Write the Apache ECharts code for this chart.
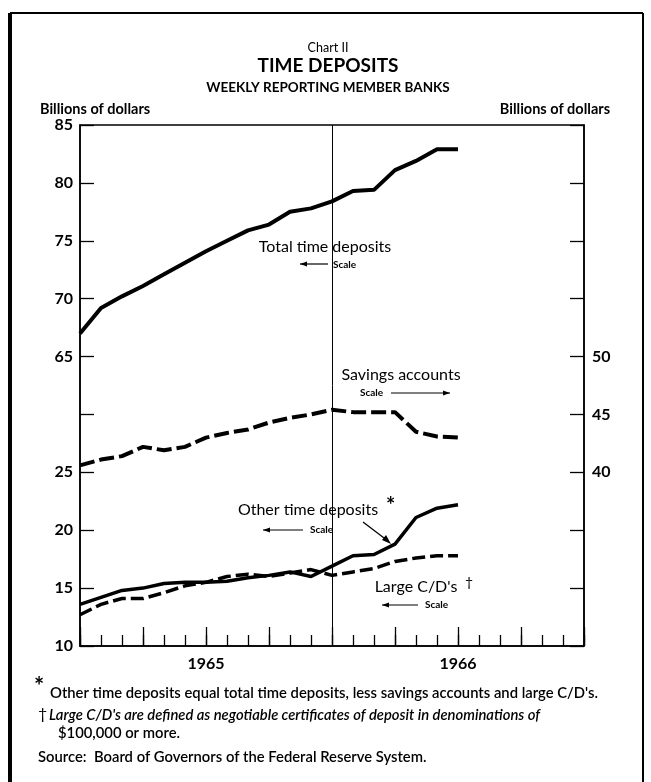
<!DOCTYPE html>
<html>
<head>
<meta charset="utf-8">
<script src="https://cdn.jsdelivr.net/npm/echarts@6/dist/echarts.min.js"></script>
<style>
  html, body { margin: 0; padding: 0; background: #fff; }
  #chart { width: 651px; height: 782px; }
</style>
</head>
<body>
<div id="chart"></div>
<script>
// months on the x axis, Jan 1965 .. Jan 1967
var months = ['1965-01','1965-02','1965-03','1965-04','1965-05','1965-06','1965-07','1965-08','1965-09','1965-10','1965-11','1965-12',
              '1966-01','1966-02','1966-03','1966-04','1966-05','1966-06','1966-07','1966-08','1966-09','1966-10','1966-11','1966-12','1967-01'];

// billions of dollars, monthly readings Jan 1965 .. Jul 1966
var totalTime   = [67.0, 69.2, 70.2, 71.1, 72.1, 73.1, 74.1, 75.0, 75.9, 76.4, 77.5, 77.8, 78.4, 79.3, 79.4, 81.1, 81.9, 82.9, 82.9];
var savings     = [40.6, 41.1, 41.4, 42.2, 41.9, 42.2, 43.0, 43.4, 43.7, 44.3, 44.7, 45.0, 45.4, 45.2, 45.2, 45.2, 43.5, 43.1, 43.0];
var otherTime   = [13.6, 14.2, 14.8, 15.0, 15.4, 15.5, 15.5, 15.6, 15.9, 16.1, 16.4, 16.0, 16.9, 17.8, 17.9, 18.8, 21.1, 21.9, 22.2];
var largeCD     = [12.7, 13.6, 14.1, 14.1, 14.6, 15.2, 15.5, 16.0, 16.2, 16.0, 16.3, 16.6, 16.1, 16.4, 16.7, 17.3, 17.6, 17.8, 17.8];

// tick labels shown on each scale
var lowerLeftLabels  = [10, 15, 20, 25];
var upperLeftLabels  = [65, 70, 75, 80, 85];
var rightLabels      = [40, 45, 50];
var yearLabels = { '1965-07': '1965', '1966-07': '1966' };

var FONT = 'Lato, "Open Sans", sans-serif';

function txt(x, y, s, size, opts) {
  opts = opts || {};
  return {
    type: 'text', x: x, y: y, silent: true,
    style: {
      text: s, fill: '#000', font: (opts.style || 'normal') + ' ' + (opts.weight || 'normal') + ' ' + size + 'px ' + FONT,
      textAlign: opts.align || 'left', textVerticalAlign: 'middle'
    }
  };
}

// small arrow for the "Scale" notes; dir -1 points left, 1 points right
function arrow(x1, x2, y, dir) {
  var tip = dir < 0 ? x1 : x2;
  return [
    { type: 'line', silent: true, shape: { x1: x1, y1: y, x2: x2, y2: y }, style: { stroke: '#000', lineWidth: 1.2 } },
    { type: 'polygon', silent: true, shape: { points: [[tip, y], [tip - dir * 7, y - 2.5], [tip - dir * 7, y + 2.5]] }, style: { fill: '#000' } }
  ];
}

var graphics = [
  // outer frame
  { type: 'line', silent: true, shape: { x1: 10, y1: 13, x2: 10, y2: 782 }, style: { stroke: '#000', lineWidth: 4 } },
  { type: 'line', silent: true, shape: { x1: 10, y1: 13, x2: 643, y2: 13 }, style: { stroke: '#000', lineWidth: 2 } },
  { type: 'line', silent: true, shape: { x1: 643, y1: 13, x2: 643, y2: 782 }, style: { stroke: '#000', lineWidth: 2 } },

  txt(328, 48, 'Chart II', 12.5, { align: 'center' }),
  txt(328, 66, 'TIME DEPOSITS', 19, { align: 'center', weight: 'bold' }),
  txt(328, 88, 'WEEKLY REPORTING MEMBER BANKS', 13.5, { align: 'center', weight: 'bold' }),
  txt(40, 109, 'Billions of dollars', 14.5, { weight: 'bold' }),
  txt(610, 109, 'Billions of dollars', 14.5, { weight: 'bold', align: 'right' }),

  txt(325, 247, 'Total time deposits', 16, { align: 'center' }),
  txt(333, 265, 'Scale', 10, { weight: 'bold' }),
  txt(401, 375, 'Savings accounts', 16, { align: 'center' }),
  txt(360, 393, 'Scale', 10, { weight: 'bold' }),
  txt(308, 510, 'Other time deposits', 16, { align: 'center' }),
  txt(386, 506, '*', 22, { weight: 'bold' }),
  txt(310, 530, 'Scale', 10, { weight: 'bold' }),
  txt(416, 587, "Large C/D's", 16, { align: 'center' }),
  txt(465, 582, '\u2020', 14),
  txt(425, 605, 'Scale', 10, { weight: 'bold' }),
  { type: 'line', silent: true, shape: { x1: 363, y1: 522, x2: 388, y2: 541 }, style: { stroke: '#000', lineWidth: 1.3 } },
  { type: 'polygon', silent: true, shape: { points: [[391, 544], [382, 540], [386, 535]] }, style: { fill: '#000' } },

  txt(34, 687, '*', 24, { weight: 'bold' }),
  txt(50, 693, "Other time deposits equal total time deposits, less savings accounts and large C/D's.", 14.8, { weight: '600' }),
  txt(38, 714, '\u2020', 16),
  txt(49, 715, "Large C/D's are defined as negotiable certificates of deposit in denominations of", 14.8, { weight: '600', style: 'italic' }),
  txt(58, 733, '$100,000 or more.', 14.8, { weight: '600' }),
  txt(38, 757, 'Source:  Board of Governors of the Federal Reserve System.', 14.8, { weight: '600' })
]
  .concat(arrow(300, 328, 264, -1))
  .concat(arrow(391, 450, 393, 1))
  .concat(arrow(263, 303, 530, -1))
  .concat(arrow(382, 418, 605, -1));

var axisLine = { show: true, lineStyle: { color: '#000', width: 1.5 } };
var labelStyle = { color: '#000', fontSize: 16, fontWeight: 'bold', fontFamily: FONT };

var option = {
  backgroundColor: '#fff',
  animation: false,
  grid: { left: 80, right: 67, top: 125, bottom: 136, show: true, borderColor: '#000', borderWidth: 1.5 },
  xAxis: [
    {
      type: 'category', data: months, boundaryGap: false, position: 'bottom',
      axisLine: axisLine,
      axisTick: { show: true, inside: true, length: 11, interval: 0, lineStyle: { color: '#000', width: 1.3 } },
      axisLabel: Object.assign({ interval: 0, margin: 10, formatter: function (v) { return yearLabels[v] || ''; } }, labelStyle),
      splitLine: { show: false }
    },
    {
      type: 'category', data: months, boundaryGap: false, position: 'bottom',
      axisLine: { show: false },
      axisTick: { show: true, inside: true, length: 19, interval: function (i) { return i % 3 === 0; }, lineStyle: { color: '#000', width: 1.3 } },
      axisLabel: { show: false },
      splitLine: { show: false }
    }
  ],
  yAxis: [
    { // lower left scale: 10 .. 25
      type: 'value', position: 'left', offset: 0, min: 10, max: 55, interval: 5,
      axisLine: axisLine,
      axisTick: { show: true, inside: true, length: 14, lineStyle: { color: '#000', width: 1.3 } },
      axisLabel: Object.assign({ margin: 7, formatter: function (v) { return lowerLeftLabels.indexOf(v) >= 0 ? String(v) : ''; } }, labelStyle),
      splitLine: { show: false }
    },
    { // upper left scale: 65 .. 85
      type: 'value', position: 'left', offset: 0, min: 40, max: 85, interval: 5,
      axisLine: { show: false }, axisTick: { show: false },
      axisLabel: Object.assign({ margin: 7, formatter: function (v) { return upperLeftLabels.indexOf(v) >= 0 ? String(v) : ''; } }, labelStyle),
      splitLine: { show: false }
    },
    { // right scale for savings accounts
      type: 'value', position: 'right', offset: 0, min: 25, max: 70, interval: 5,
      axisLine: axisLine,
      axisTick: { show: true, inside: true, length: 14, lineStyle: { color: '#000', width: 1.3 } },
      axisLabel: Object.assign({ margin: 8, formatter: function (v) { return rightLabels.indexOf(v) >= 0 ? String(v) : ''; } }, labelStyle),
      splitLine: { show: false }
    }
  ],
  series: [
    {
      name: 'Total time deposits', type: 'line', yAxisIndex: 1, data: totalTime, symbol: 'none',
      lineStyle: { color: '#000', width: 4 },
      markLine: {
        silent: true, symbol: 'none', label: { show: false },
        lineStyle: { color: '#000', width: 1, type: 'solid' },
        data: [{ xAxis: '1966-01' }]
      }
    },
    {
      name: 'Savings accounts', type: 'line', yAxisIndex: 2, data: savings, symbol: 'none',
      lineStyle: { color: '#000', width: 4, type: [15, 5] }
    },
    {
      name: 'Other time deposits', type: 'line', yAxisIndex: 0, data: otherTime, symbol: 'none',
      lineStyle: { color: '#000', width: 3.5 }
    },
    {
      name: "Large C/D's", type: 'line', yAxisIndex: 0, data: largeCD, symbol: 'none',
      lineStyle: { color: '#000', width: 3.5, type: [13, 5] }
    }
  ],
  graphic: graphics
};

var myChart = echarts.init(document.getElementById('chart'));
myChart.setOption(option);
window.addEventListener('resize', function () { myChart.resize(); });
</script>
</body>
</html>
